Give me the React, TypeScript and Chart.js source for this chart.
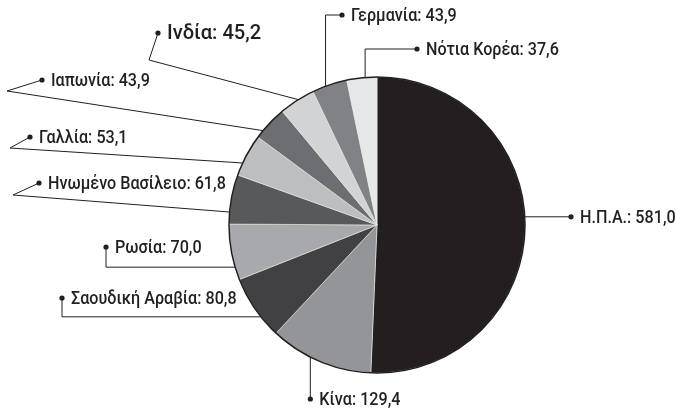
import React, { useEffect, useRef } from "react";
import { Chart, registerables } from "chart.js";

Chart.register(...registerables);

// ---- data ----
const countries = [
  "Η.Π.Α.",
  "Κίνα",
  "Σαουδική Αραβία",
  "Ρωσία",
  "Ηνωμένο Βασίλειο",
  "Γαλλία",
  "Ιαπωνία",
  "Ινδία",
  "Γερμανία",
  "Νότια Κορέα",
];
const spending = [581.0, 129.4, 80.8, 70.0, 61.8, 53.1, 43.9, 45.2, 43.9, 37.6];
const valueLabels = ["581,0", "129,4", "80,8", "70,0", "61,8", "53,1", "43,9", "45,2", "43,9", "37,6"];

// ---- styles / layout ----
const sliceColors = [
  "#231f20",
  "#939598",
  "#414042",
  "#a7a9ac",
  "#58595b",
  "#bcbec0",
  "#6d6e71",
  "#d1d3d4",
  "#808285",
  "#e6e7e8",
];

type Leader = {
  type: "kink" | "h" | "v" | "down" | "right";
  frac: number;
  dot: { x: number; y: number };
  elbow?: { x: number; y: number };
  size: number;
  sx: number;
};

const leaders: Leader[] = [
  { type: "right", frac: 0.476, dot: { x: 571, y: 0 }, size: 19, sx: 0.85 },
  { type: "down", frac: 0.6, dot: { x: 0, y: 399 }, size: 19, sx: 0.85 },
  { type: "h", frac: 0.34, dot: { x: 62, y: 298 }, size: 19, sx: 0.85 },
  { type: "h", frac: 0.23, dot: { x: 106, y: 247 }, size: 19, sx: 0.85 },
  { type: "kink", frac: 0.24, dot: { x: 39, y: 183 }, elbow: { x: 13, y: 195 }, size: 19, sx: 0.85 },
  { type: "kink", frac: 0.3, dot: { x: 30, y: 137 }, elbow: { x: 10, y: 148 }, size: 19, sx: 0.85 },
  { type: "kink", frac: 0.23, dot: { x: 42, y: 80 }, elbow: { x: 7, y: 91 }, size: 19, sx: 0.85 },
  { type: "kink", frac: 0.54, dot: { x: 158, y: 33 }, elbow: { x: 149, y: 60 }, size: 21, sx: 0.96 },
  { type: "v", frac: 0.38, dot: { x: 342, y: 15 }, size: 19, sx: 0.85 },
  { type: "v", frac: 0.61, dot: { x: 417, y: 49 }, size: 19, sx: 0.85 },
];

const INK = "#231f20";
const FONT = 'Roboto, "DejaVu Sans Condensed", sans-serif';

const labelPlugin = {
  id: "leaderLabels",
  afterDatasetsDraw(chart: any) {
    const ctx: CanvasRenderingContext2D = chart.ctx;
    const meta = chart.getDatasetMeta(0);
    if (!meta || !meta.data.length) return;
    const first = meta.data[0] as any;
    const cx = first.x;
    const cy = first.y;
    const R = first.outerRadius;

    ctx.save();
    ctx.beginPath();
    ctx.arc(cx, cy, R, 0, Math.PI * 2);
    ctx.strokeStyle = INK;
    ctx.lineWidth = 1.5;
    ctx.stroke();

    meta.data.forEach((arc: any, i: number) => {
      const L = leaders[i];
      const a = arc.startAngle + L.frac * (arc.endAngle - arc.startAngle);
      const ax = cx + R * Math.cos(a);
      const ay = cy + R * Math.sin(a);
      let pts: [number, number][] = [];
      let dot = { x: L.dot.x, y: L.dot.y };
      if (L.type === "kink") {
        pts = [[dot.x, dot.y], [L.elbow!.x, L.elbow!.y], [ax, ay]];
      } else if (L.type === "h") {
        pts = [[dot.x, dot.y], [dot.x, ay], [ax, ay]];
      } else if (L.type === "v") {
        pts = [[ax, ay], [ax, dot.y], [dot.x, dot.y]];
      } else if (L.type === "down") {
        dot = { x: ax, y: L.dot.y };
        pts = [[ax, ay], [ax, dot.y]];
      } else {
        dot = { x: L.dot.x, y: ay };
        pts = [[ax, ay], [dot.x, ay]];
      }
      ctx.beginPath();
      ctx.moveTo(pts[0][0], pts[0][1]);
      for (let k = 1; k < pts.length; k++) ctx.lineTo(pts[k][0], pts[k][1]);
      ctx.strokeStyle = INK;
      ctx.lineWidth = 1;
      ctx.stroke();

      ctx.beginPath();
      ctx.arc(dot.x, dot.y, 2.6, 0, Math.PI * 2);
      ctx.fillStyle = INK;
      ctx.fill();

      ctx.save();
      ctx.font = `500 ${L.size}px ${FONT}`;
      ctx.textAlign = "left";
      ctx.textBaseline = "alphabetic";
      ctx.fillStyle = INK;
      ctx.translate(dot.x + 9, dot.y + Math.round(L.size * 0.29));
      ctx.scale(L.sx, 1);
      ctx.fillText(`${countries[i]}: ${valueLabels[i]}`, 0, 0);
      ctx.restore();
    });
    ctx.restore();
  },
};

export default function App() {
  const ref = useRef<HTMLCanvasElement>(null);
  useEffect(() => {
    if (!ref.current) return;
    const chart = new Chart(ref.current, {
      type: "pie",
      data: {
        labels: countries,
        datasets: [
          {
            data: spending,
            backgroundColor: sliceColors,
            borderWidth: 0.6,
            borderColor: "#e8e8e8",
            hoverOffset: 0,
            radius: 148,
          } as any,
        ],
      },
      options: {
        responsive: false,
        animation: false,
        events: [],
        layout: { padding: { left: 229, right: 152, top: 77, bottom: 37 } },
        plugins: {
          legend: { display: false },
          tooltip: { enabled: false },
        },
      },
      plugins: [labelPlugin],
    });
    return () => chart.destroy();
  }, []);
  return (
    <div style={{ position: "fixed", left: 0, top: 0, width: 677, height: 410, background: "#fff" }}>
      <canvas ref={ref} width={677} height={410} style={{ width: 677, height: 410 }} />
    </div>
  );
}
